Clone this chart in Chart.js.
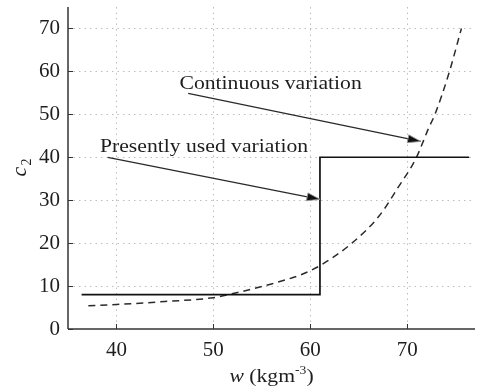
<!DOCTYPE html>
<html>
<head>
<meta charset="utf-8">
<title>c2 against w</title>
<script src="https://cdn.jsdelivr.net/npm/chart.js@4/dist/chart.umd.min.js"></script>
<style>
  html, body { margin: 0; padding: 0; background: #fff; }
  canvas { display: block; }
</style>
</head>
<body>
<canvas id="c2Chart" width="479" height="389"></canvas>
<script>
// stepped coefficient currently in use
const stepW = [36.4, 61, 61, 76.4];
const stepC = [8, 8, 40, 40];

// continuous coefficient
const curveW = [37.1, 40, 45, 50, 52.5, 56, 59, 60, 61.2, 64.3, 67.1, 69.1, 70.9, 72.2, 72.9, 74.3, 75.6];
const curveC = [5.4, 5.7, 6.4, 7.3, 8.5, 10.5, 12.6, 13.6, 15, 20, 26.3, 33.1, 39.7, 46.7, 50.2, 59.5, 70];

const xTicks = [40, 50, 60, 70];
const yTicks = [0, 10, 20, 30, 40, 50, 60, 70];

// callouts: label, text anchor, line start, arrow tip (data units)
const notes = [
    { text: 'Continuous variation', at: [46.5, 56], from: [47.4, 54.9], tip: [71.4, 43.7] },
    { text: 'Presently used variation', at: [38.3, 41.2], from: [39.1, 40], tip: [61, 30.2] }
];

const serif = '"Liberation Serif", "Times New Roman", serif';
const inkColor = '#1e1e1e';
const stretch = 1.14;

function toPoints(xs, ys) {
    return xs.map((v, i) => ({ x: v, y: ys[i] }));
}

function segment(ctx, x1, y1, x2, y2) {
    ctx.beginPath();
    ctx.moveTo(x1, y1);
    ctx.lineTo(x2, y2);
    ctx.stroke();
}

// text drawn a little wider, like the rest of the figure lettering
function wideText(ctx, str, x, y) {
    ctx.save();
    ctx.translate(x, y);
    ctx.scale(stretch, 1);
    ctx.fillText(str, 0, 0);
    ctx.restore();
    return ctx.measureText(str).width * stretch;
}

const extras = {
    id: 'extras',
    beforeDatasetsDraw(chart) {
        const { ctx, chartArea: a, scales: { x, y } } = chart;
        ctx.save();
        ctx.strokeStyle = '#bdbdbd';
        ctx.lineWidth = 1;
        ctx.setLineDash([1.5, 4]);
        xTicks.forEach(v => {
            const px = Math.round(x.getPixelForValue(v)) + 0.5;
            segment(ctx, px, a.top, px, a.bottom);
        });
        yTicks.forEach(v => {
            if (v === 0) return;
            const py = Math.round(y.getPixelForValue(v)) + 0.5;
            segment(ctx, a.left, py, a.right, py);
        });
        ctx.restore();
    },
    afterDatasetsDraw(chart) {
        const { ctx, chartArea: a, scales: { x, y } } = chart;
        ctx.save();

        // axes with inward tick marks
        ctx.strokeStyle = '#333';
        ctx.lineWidth = 1.5;
        segment(ctx, a.left, a.top, a.left, a.bottom);
        segment(ctx, a.left, a.bottom, a.right, a.bottom);
        ctx.lineWidth = 1;
        xTicks.forEach(v => {
            const px = Math.round(x.getPixelForValue(v)) + 0.5;
            segment(ctx, px, a.bottom, px, a.bottom - 5);
        });
        yTicks.forEach(v => {
            const py = Math.round(y.getPixelForValue(v)) + 0.5;
            segment(ctx, a.left, py, a.left + 5, py);
        });

        // callouts
        ctx.fillStyle = inkColor;
        ctx.font = '19px ' + serif;
        ctx.textBaseline = 'alphabetic';
        notes.forEach(n => {
            wideText(ctx, n.text, x.getPixelForValue(n.at[0]), y.getPixelForValue(n.at[1]));
            const x1 = x.getPixelForValue(n.from[0]), y1 = y.getPixelForValue(n.from[1]);
            const x2 = x.getPixelForValue(n.tip[0]), y2 = y.getPixelForValue(n.tip[1]);
            ctx.strokeStyle = '#2a2a2a';
            ctx.lineWidth = 1.3;
            segment(ctx, x1, y1, x2, y2);
            const ang = Math.atan2(y2 - y1, x2 - x1);
            ctx.save();
            ctx.translate(x2, y2);
            ctx.rotate(ang);
            ctx.beginPath();
            ctx.moveTo(0, 0);
            ctx.lineTo(-13, -4);
            ctx.lineTo(-13, 4);
            ctx.closePath();
            ctx.fillStyle = '#111';
            ctx.fill();
            ctx.strokeStyle = '#999';
            ctx.lineWidth = 0.8;
            ctx.stroke();
            ctx.restore();
        });

        // x title: w (kgm^-3)
        ctx.fillStyle = inkColor;
        const parts = [
            { s: 'w', font: 'italic 19px ' + serif, dy: 0 },
            { s: ' (kgm', font: '19px ' + serif, dy: 0 },
            { s: '-3', font: '12px ' + serif, dy: -8 },
            { s: ')', font: '19px ' + serif, dy: 0 }
        ];
        let total = 0;
        parts.forEach(p => { ctx.font = p.font; total += ctx.measureText(p.s).width * stretch; });
        let cx = (a.left + a.right) / 2 - total / 2;
        const base = chart.height - 7;
        parts.forEach(p => {
            ctx.font = p.font;
            cx += wideText(ctx, p.s, cx, base + p.dy);
        });

        // y title: c with subscript 2
        ctx.save();
        ctx.translate(26, (a.top + a.bottom) / 2);
        ctx.rotate(-Math.PI / 2);
        ctx.font = 'italic 22px ' + serif;
        const cw = ctx.measureText('c').width;
        ctx.font = '14px ' + serif;
        const sw = ctx.measureText('2').width;
        let tx = -(cw + sw) / 2;
        ctx.font = 'italic 22px ' + serif;
        ctx.fillText('c', tx, 0);
        tx += cw + 1;
        ctx.font = '14px ' + serif;
        ctx.fillText('2', tx, 5);
        ctx.restore();

        ctx.restore();
    }
};

const tickFont = { family: serif, size: 21 };

new Chart(document.getElementById('c2Chart'), {
    type: 'line',
    data: {
        datasets: [
            {
                label: 'Presently used variation',
                data: toPoints(stepW, stepC),
                borderColor: '#111',
                borderWidth: 1.7,
                pointRadius: 0,
                tension: 0
            },
            {
                label: 'Continuous variation',
                data: toPoints(curveW, curveC),
                borderColor: '#2b2b2b',
                borderWidth: 1.5,
                borderDash: [7, 5],
                pointRadius: 0,
                cubicInterpolationMode: 'monotone'
            }
        ]
    },
    options: {
        responsive: false,
        animation: false,
        events: [],
        layout: { padding: { top: 7, right: 4, left: 0, bottom: 0 } },
        plugins: {
            legend: { display: false },
            tooltip: { enabled: false }
        },
        scales: {
            x: {
                type: 'linear',
                min: 35,
                max: 77,
                afterBuildTicks: s => { s.ticks = xTicks.map(v => ({ value: v })); },
                afterFit: s => { s.height = 60; s.paddingLeft = 0; s.paddingRight = 0; },
                grid: { display: false, drawTicks: false },
                border: { display: false },
                ticks: { font: tickFont, color: inkColor, padding: 9, maxRotation: 0 }
            },
            y: {
                type: 'linear',
                min: 0,
                max: 75,
                afterBuildTicks: s => { s.ticks = yTicks.map(v => ({ value: v })); },
                afterFit: s => { s.width = 68; s.paddingTop = 0; s.paddingBottom = 0; },
                grid: { display: false, drawTicks: false },
                border: { display: false },
                ticks: { font: tickFont, color: inkColor, padding: 8 }
            }
        }
    },
    plugins: [extras]
});
</script>
</body>
</html>
